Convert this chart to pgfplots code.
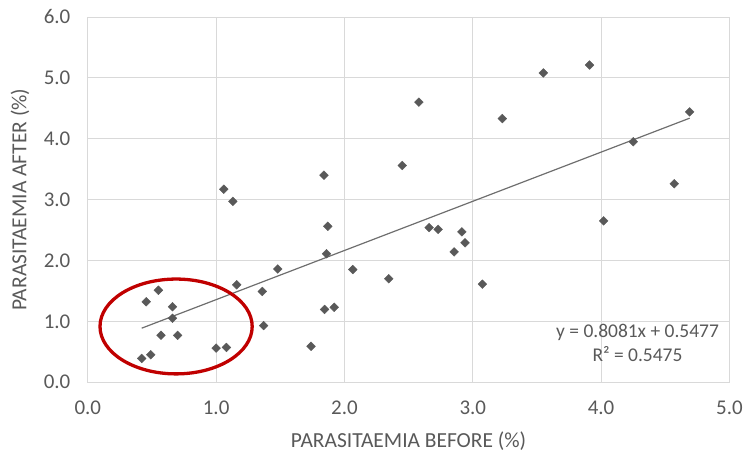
\documentclass[border=0pt]{standalone}
\usepackage{fontspec}
\setmainfont{Carlito}
\usepackage{pgfplots}
\pgfplotsset{compat=1.18}
\usetikzlibrary{calc}

\definecolor{txt}{RGB}{89,89,89}
\definecolor{gridc}{RGB}{217,217,217}
\definecolor{pts}{RGB}{89,89,89}
\definecolor{trend}{RGB}{110,110,110}
\definecolor{ring}{RGB}{192,0,0}

\begin{document}
\begin{tikzpicture}
\begin{axis}[
    scale only axis,
    width=643bp, height=366bp,
    xmin=0, xmax=5, ymin=0, ymax=6,
    xtick={0,1,2,3,4,5},
    ytick={0,1,2,3,4,5,6},
    major tick length=0pt,
    grid=major,
    major grid style={gridc, line width=0.8bp},
    axis line style={gridc, line width=0.8bp},
    tick label style={font=\fontsize{21bp}{25bp}\selectfont, text=txt},
    /pgf/number format/assume math mode=true,
    /pgf/number format/.cd, fixed, fixed zerofill, precision=1, /pgfplots/.cd,
    xticklabel style={yshift=-15bp},
    yticklabel style={xshift=-14bp},
    label style={font=\fontsize{21.5bp}{25bp}\selectfont, text=txt},
    xlabel={PARASITAEMIA BEFORE (\%)},
    ylabel={PARASITAEMIA AFTER (\%)},
    xlabel style={at={(axis description cs:0.5,0)}, anchor=center, yshift=-59bp},
    ylabel style={at={(axis description cs:0,0.5)}, anchor=center, yshift=68bp},
    clip=false,
]
\addplot[only marks, mark=square*, mark size=3.1bp, mark options={rotate=45, fill=pts, draw=pts}] coordinates {
    (0.42,0.39) (0.49,0.45) (0.57,0.77) (0.70,0.77) (0.66,1.05)
    (0.66,1.24) (0.455,1.32) (0.55,1.51) (1.00,0.56) (1.08,0.57)
    (1.16,1.60) (1.36,1.49) (1.37,0.93) (1.48,1.86) (1.06,3.17)
    (1.13,2.97) (1.84,3.40) (2.45,3.56) (1.87,2.56) (1.86,2.11)
    (2.66,2.54) (2.73,2.51) (2.065,1.85) (2.345,1.70) (1.845,1.195)
    (1.92,1.23) (1.74,0.59) (2.58,4.60) (3.55,5.08) (3.91,5.21)
    (3.23,4.33) (4.69,4.44) (4.25,3.95) (4.57,3.26) (4.02,2.65)
    (2.915,2.47) (2.94,2.29) (2.855,2.14) (3.075,1.61)
};
% linear trendline y = 0.8081x + 0.5477
\addplot[trend, line width=1.2bp] coordinates {(0.42,0.887) (4.69,4.337)};
\node[anchor=east, align=center, text=txt, font=\fontsize{19.5bp}{24bp}\selectfont]
    at (axis cs:4.945,0.65) {y = 0.8081x + 0.5477\\R² = 0.5475};
\draw[ring, line width=3.3bp] (axis cs:0.688,0.915) ellipse [x radius=0.593, y radius=0.779];
\end{axis}
\useasboundingbox ($(current axis.south west)+(-88bp,-74bp)$) rectangle ($(current axis.north east)+(15bp,17bp)$);
\end{tikzpicture}
\end{document}
